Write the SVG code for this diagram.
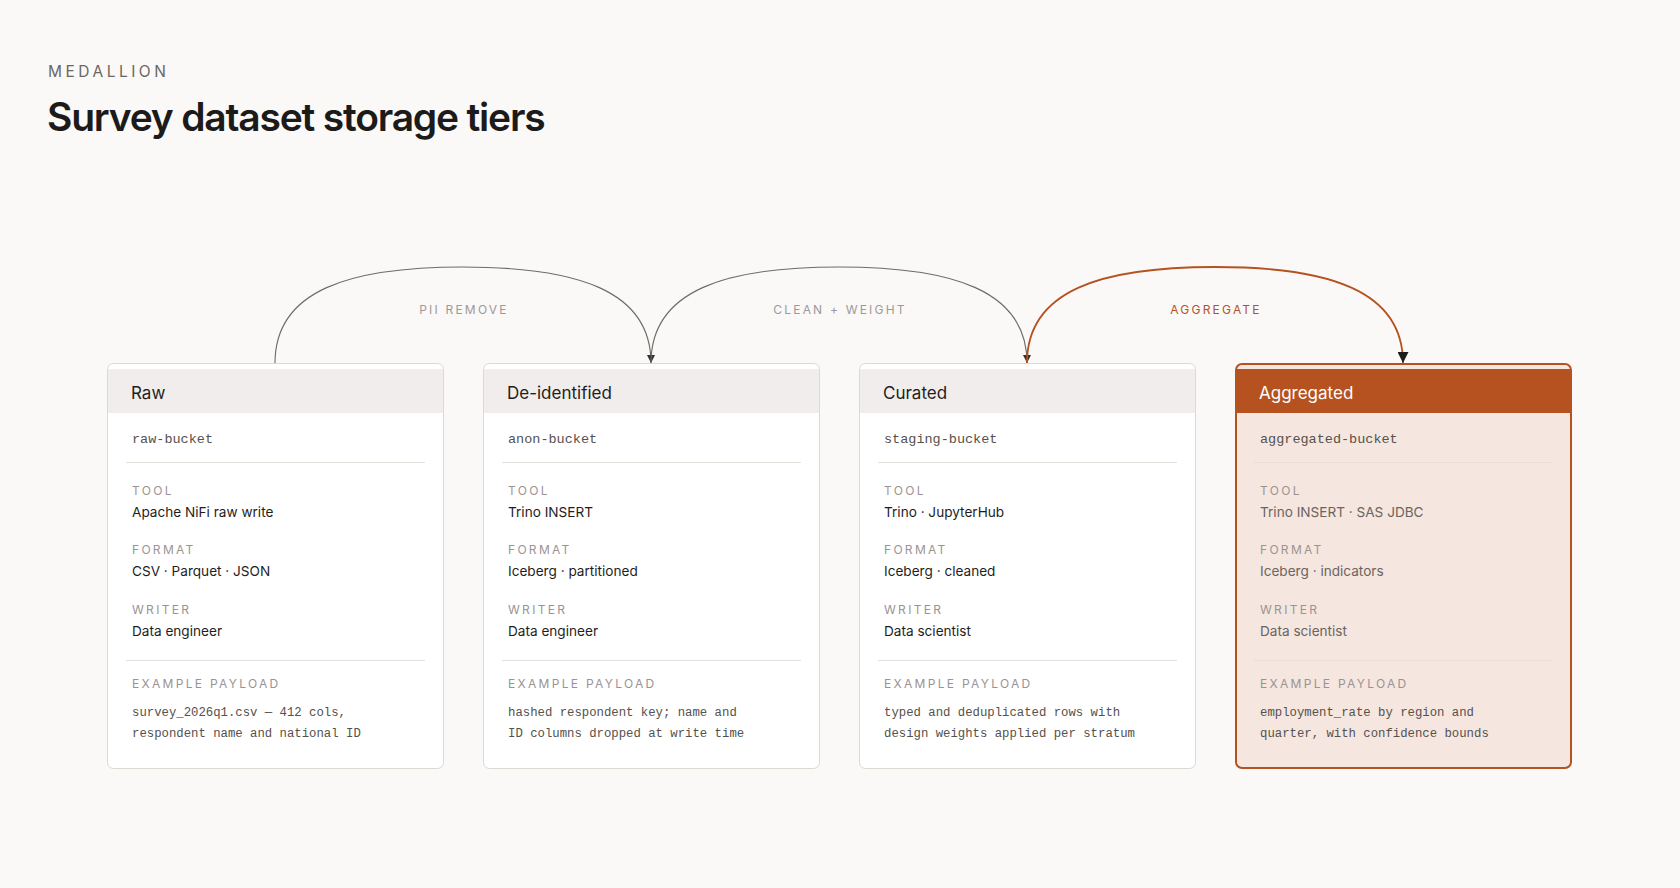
<svg xmlns="http://www.w3.org/2000/svg" width="1680" height="888" viewBox="0 0 1680 888">
  <defs>
    <style>
      .sans { font-family: Inter, "Liberation Sans", Arial, sans-serif; }
      .mono { font-family: "Liberation Mono", "Courier New", monospace; }
      .eyebrow { font-size: 15.5px; letter-spacing: 3.5px; fill: #6b6763; }
      .title { font-size: 39px; font-weight: 600; letter-spacing: -1.2px; fill: #1c1b1a; }
      .card { fill: #ffffff; stroke: #ddd8d2; stroke-width: 1; }
      .hdr { fill: #f1eded; }
      .hdrtxt { font-size: 17px; font-weight: 400; fill: #1f1e1d; }
      .bucket { font-size: 13.5px; fill: #55514d; }
      .div { stroke: #e3dfda; stroke-width: 1; }
      .lbl { font-size: 12px; letter-spacing: 2.3px; fill: #9b9393; }
      .val { font-size: 13.6px; fill: #1f1e1d; }
      .pay { font-size: 12.3px; fill: #55514d; }
      .agg .card { fill: #f5e6df; stroke: #b5521f; stroke-width: 2; }
      .agg .hdr { fill: #b5521f; }
      .agg .hdrtxt { fill: #ffffff; }
      .agg .val { fill: #6b6560; }
      .agg .div { stroke: #ecdcd3; }
      .edge { fill: none; stroke: #6e6a66; stroke-width: 1.1; }
      .edge.hot { stroke: #b5521f; stroke-width: 1.8; }
      .elbl { font-size: 12px; letter-spacing: 2.2px; fill: #a09898; text-anchor: middle; }
      .elbl.hot { fill: #b5521f; }
    </style>
    <marker id="ah" viewBox="0 0 10 10" refX="10" refY="5" markerWidth="8" markerHeight="8" markerUnits="userSpaceOnUse" orient="auto">
      <path d="M0,0 L10,5 L0,10 z" fill="#333130"/>
    </marker>
    <marker id="ahHot" viewBox="0 0 10 10" refX="10" refY="5" markerWidth="11" markerHeight="11" markerUnits="userSpaceOnUse" orient="auto">
      <path d="M0,0 L10,5 L0,10 z" fill="#1e1c1b"/>
    </marker>
  </defs>

  <rect width="1680" height="888" fill="#faf9f7"/>

  <text class="sans eyebrow" x="48" y="77">MEDALLION</text>
  <text class="sans title" x="47" y="131">Survey dataset storage tiers</text>

  <g id="raw" transform="translate(107,0)">
    <rect class="card" x="0.5" y="363.5" width="336" height="405" rx="6"/>
    <rect class="hdr" x="1" y="369" width="335" height="44"/>
    <text class="sans hdrtxt" x="24" y="398.5">Raw</text>
    <text class="mono bucket" x="25" y="442.5">raw-bucket</text>
    <line class="div" x1="19" y1="462.5" x2="318" y2="462.5"/>
    <text class="sans lbl" x="25" y="495">TOOL</text>
    <text class="sans val" x="25" y="516.5">Apache NiFi raw write</text>
    <text class="sans lbl" x="25" y="554">FORMAT</text>
    <text class="sans val" x="25" y="575.5">CSV · Parquet · JSON</text>
    <text class="sans lbl" x="25" y="614">WRITER</text>
    <text class="sans val" x="25" y="635.5">Data engineer</text>
    <line class="div" x1="19" y1="660.5" x2="318" y2="660.5"/>
    <text class="sans lbl" x="25" y="688">EXAMPLE PAYLOAD</text>
    <text class="mono pay" x="25" y="715.5">survey_2026q1.csv — 412 cols,</text>
    <text class="mono pay" x="25" y="737">respondent name and national ID</text>
  </g>

  <g id="deidentified" transform="translate(483,0)">
    <rect class="card" x="0.5" y="363.5" width="336" height="405" rx="6"/>
    <rect class="hdr" x="1" y="369" width="335" height="44"/>
    <text class="sans hdrtxt" x="24" y="398.5">De-identified</text>
    <text class="mono bucket" x="25" y="442.5">anon-bucket</text>
    <line class="div" x1="19" y1="462.5" x2="318" y2="462.5"/>
    <text class="sans lbl" x="25" y="495">TOOL</text>
    <text class="sans val" x="25" y="516.5">Trino INSERT</text>
    <text class="sans lbl" x="25" y="554">FORMAT</text>
    <text class="sans val" x="25" y="575.5">Iceberg · partitioned</text>
    <text class="sans lbl" x="25" y="614">WRITER</text>
    <text class="sans val" x="25" y="635.5">Data engineer</text>
    <line class="div" x1="19" y1="660.5" x2="318" y2="660.5"/>
    <text class="sans lbl" x="25" y="688">EXAMPLE PAYLOAD</text>
    <text class="mono pay" x="25" y="715.5">hashed respondent key; name and</text>
    <text class="mono pay" x="25" y="737">ID columns dropped at write time</text>
  </g>

  <g id="curated" transform="translate(859,0)">
    <rect class="card" x="0.5" y="363.5" width="336" height="405" rx="6"/>
    <rect class="hdr" x="1" y="369" width="335" height="44"/>
    <text class="sans hdrtxt" x="24" y="398.5">Curated</text>
    <text class="mono bucket" x="25" y="442.5">staging-bucket</text>
    <line class="div" x1="19" y1="462.5" x2="318" y2="462.5"/>
    <text class="sans lbl" x="25" y="495">TOOL</text>
    <text class="sans val" x="25" y="516.5">Trino · JupyterHub</text>
    <text class="sans lbl" x="25" y="554">FORMAT</text>
    <text class="sans val" x="25" y="575.5">Iceberg · cleaned</text>
    <text class="sans lbl" x="25" y="614">WRITER</text>
    <text class="sans val" x="25" y="635.5">Data scientist</text>
    <line class="div" x1="19" y1="660.5" x2="318" y2="660.5"/>
    <text class="sans lbl" x="25" y="688">EXAMPLE PAYLOAD</text>
    <text class="mono pay" x="25" y="715.5">typed and deduplicated rows with</text>
    <text class="mono pay" x="25" y="737">design weights applied per stratum</text>
  </g>

  <g id="aggregated" class="agg" transform="translate(1235,0)">
    <rect class="card" x="1" y="364" width="335" height="404" rx="6"/>
    <rect class="hdr" x="2" y="369" width="333" height="44"/>
    <text class="sans hdrtxt" x="24" y="398.5">Aggregated</text>
    <text class="mono bucket" x="25" y="442.5">aggregated-bucket</text>
    <line class="div" x1="19" y1="462.5" x2="318" y2="462.5"/>
    <text class="sans lbl" x="25" y="495">TOOL</text>
    <text class="sans val" x="25" y="516.5">Trino INSERT · SAS JDBC</text>
    <text class="sans lbl" x="25" y="554">FORMAT</text>
    <text class="sans val" x="25" y="575.5">Iceberg · indicators</text>
    <text class="sans lbl" x="25" y="614">WRITER</text>
    <text class="sans val" x="25" y="635.5">Data scientist</text>
    <line class="div" x1="19" y1="660.5" x2="318" y2="660.5"/>
    <text class="sans lbl" x="25" y="688">EXAMPLE PAYLOAD</text>
    <text class="mono pay" x="25" y="715.5">employment_rate by region and</text>
    <text class="mono pay" x="25" y="737">quarter, with confidence bounds</text>
  </g>

  <g id="connectors">
    <path class="edge" d="M275,363 C275,290 350,267 463,267 C576,267 651,290 651,363" marker-end="url(#ah)"/>
    <path class="edge" d="M651,363 C651,290 726,267 839,267 C952,267 1027,290 1027,363" marker-end="url(#ah)"/>
    <path class="edge hot" d="M1027,363 C1027,290 1102,267 1215,267 C1328,267 1403,290 1403,363" marker-end="url(#ahHot)"/>
    <text class="sans elbl" x="464" y="314">PII REMOVE</text>
    <text class="sans elbl" x="840" y="314">CLEAN + WEIGHT</text>
    <text class="sans elbl hot" x="1216" y="314">AGGREGATE</text>
  </g>
</svg>
